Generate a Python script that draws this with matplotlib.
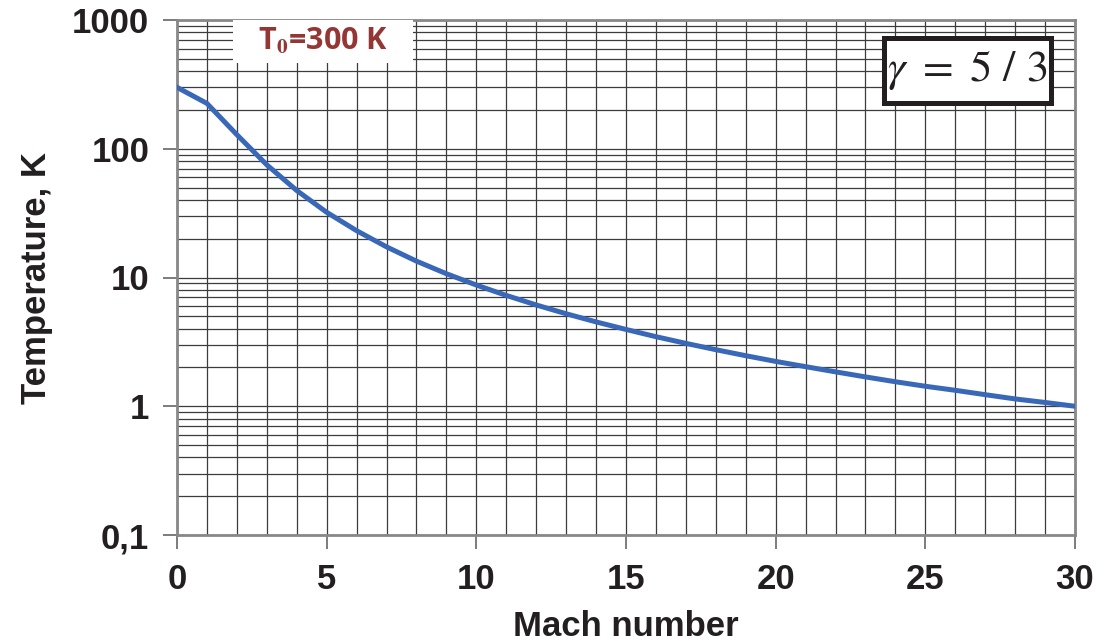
import matplotlib
matplotlib.use('Agg')
import matplotlib.pyplot as plt
from matplotlib.patches import Rectangle
from matplotlib.ticker import FixedLocator, LogLocator, NullFormatter
import numpy as np

# Mach number vs. static temperature
mach = [0, 1, 2, 3, 4, 5, 6, 7, 8, 9, 10, 11, 12, 13, 14, 15,
        16, 17, 18, 19, 20, 21, 22, 23, 24, 25, 26, 27, 28, 29, 30]
temp = [300, 225, 128.6, 75.0, 47.4, 32.1, 23.1, 17.3, 13.4, 10.7, 8.74,
        7.26, 6.12, 5.23, 4.52, 3.95, 3.47, 3.08, 2.75, 2.47, 2.23,
        2.03, 1.85, 1.69, 1.55, 1.43, 1.33, 1.23, 1.14, 1.07, 1.00]

xticks = [0, 5, 10, 15, 20, 25, 30]
yticks = [0.1, 1, 10, 100, 1000]
ytick_labels = ['0,1', '1', '10', '100', '1000']

plt.rcParams['font.family'] = ['Liberation Sans', 'DejaVu Sans']
plt.rcParams['mathtext.fontset'] = 'stix'

fig = plt.figure(figsize=(11.13, 6.44), dpi=100)
ax = fig.add_axes([177 / 1113, 1 - 535 / 644, (1075 - 177) / 1113, (535 - 20) / 644])

ax.set_yscale('log')
ax.set_xlim(0, 30)
ax.set_ylim(0.1, 1000)

ax.set_xticks(xticks)
ax.set_xticklabels([str(t) for t in xticks])
ax.xaxis.set_minor_locator(FixedLocator(range(0, 31)))
ax.set_yticks(yticks)
ax.set_yticklabels(ytick_labels)
ax.yaxis.set_minor_locator(LogLocator(base=10, subs=np.arange(2, 10)))
ax.yaxis.set_minor_formatter(NullFormatter())

ax.grid(True, which='both', color='#3c3c3c', linewidth=0.9)
ax.tick_params(which='minor', length=0)
ax.tick_params(which='major', length=10, width=1.2, color='#666666', direction='out', pad=10,
               labelsize=25)
for lbl in ax.get_xticklabels() + ax.get_yticklabels():
    lbl.set_fontweight('bold')
    lbl.set_color('#231f20')
for s in ax.spines.values():
    s.set_color('#888888')
    s.set_linewidth(2)

ax.plot(mach, temp, color='#3a68b8', linewidth=3.6, zorder=3)

ax.set_xlabel('Mach number', fontsize=25, fontweight='bold', color='#231f20', labelpad=10)
ax.set_ylabel('Temperature, K', fontsize=25, fontweight='bold', color='#231f20', labelpad=14)

# T0 label on a white patch
ax.add_patch(Rectangle((0.0624, 0.9165), 0.2, 0.0835, transform=ax.transAxes,
                       facecolor='white', edgecolor='none', zorder=4, clip_on=False))
ax.text(0.163, 0.957, r'T$_\mathbf{0}$=300 K', transform=ax.transAxes, fontsize=22,
        fontweight='bold', color='#943634', family=['Open Sans', 'DejaVu Sans'],
        ha='center', va='center', zorder=5)

# gamma box
ax.add_patch(Rectangle((0.7868, 0.8398), 0.186, 0.1262, transform=ax.transAxes,
                       facecolor='white', edgecolor='#231f20', linewidth=3.6,
                       zorder=4, joinstyle='miter'))
ax.text(0.88, 0.903, r'$\gamma\ =\ 5\ /\ 3$', transform=ax.transAxes, fontsize=32,
        color='#231f20', ha='center', va='center', zorder=5)

fig.savefig('out.png', dpi=100)
